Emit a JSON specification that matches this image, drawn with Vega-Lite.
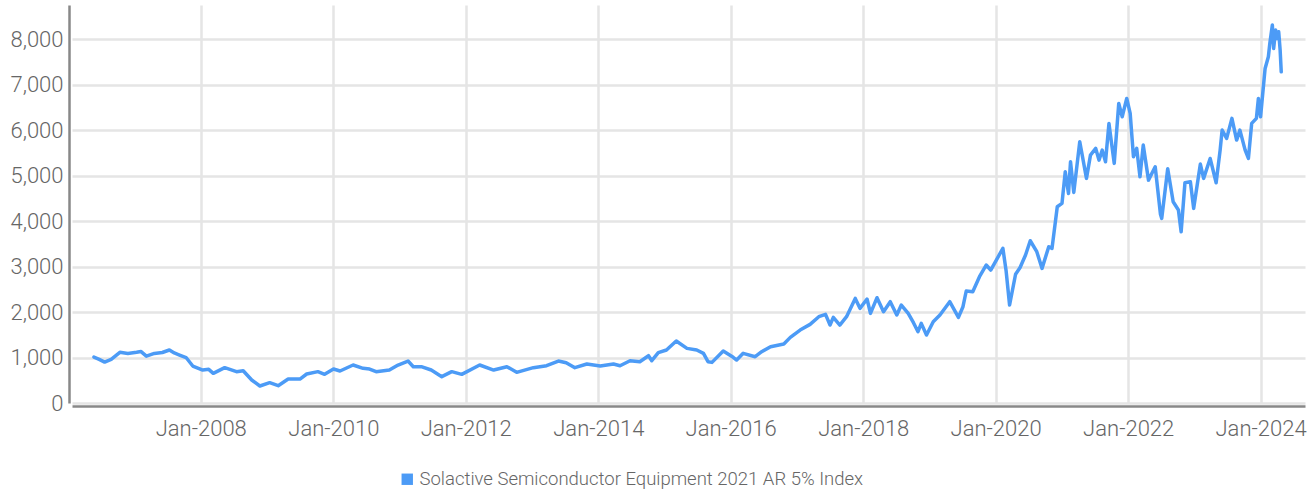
{
  "$schema": "https://vega.github.io/schema/vega-lite/v6.json",
  "width": 1233,
  "height": 398,
  "autosize": "none",
  "padding": {"left": 72, "top": 5, "right": 9, "bottom": 88},
  "background": "white",
  "config": {"view": {"stroke": null}, "font": "Roboto"},
  "data": {"values": [
    {"date": "2006-05-22", "value": 1010},
    {"date": "2006-06-20", "value": 960},
    {"date": "2006-07-20", "value": 900},
    {"date": "2006-08-25", "value": 960},
    {"date": "2006-10-12", "value": 1114},
    {"date": "2006-11-25", "value": 1090},
    {"date": "2007-01-12", "value": 1114},
    {"date": "2007-02-06", "value": 1130},
    {"date": "2007-03-07", "value": 1030},
    {"date": "2007-04-20", "value": 1090},
    {"date": "2007-06-03", "value": 1110},
    {"date": "2007-07-12", "value": 1165},
    {"date": "2007-08-08", "value": 1100},
    {"date": "2007-09-06", "value": 1055},
    {"date": "2007-10-12", "value": 1000},
    {"date": "2007-11-18", "value": 813},
    {"date": "2008-01-12", "value": 725},
    {"date": "2008-02-14", "value": 740},
    {"date": "2008-03-10", "value": 652},
    {"date": "2008-05-12", "value": 777},
    {"date": "2008-07-16", "value": 689},
    {"date": "2008-08-22", "value": 710},
    {"date": "2008-10-08", "value": 505},
    {"date": "2008-11-22", "value": 374},
    {"date": "2009-01-15", "value": 447},
    {"date": "2009-03-03", "value": 381},
    {"date": "2009-04-27", "value": 527},
    {"date": "2009-07-01", "value": 527},
    {"date": "2009-08-07", "value": 637},
    {"date": "2009-10-08", "value": 689},
    {"date": "2009-11-14", "value": 630},
    {"date": "2010-01-02", "value": 747},
    {"date": "2010-02-07", "value": 703},
    {"date": "2010-04-20", "value": 835},
    {"date": "2010-06-14", "value": 762},
    {"date": "2010-07-20", "value": 747},
    {"date": "2010-08-25", "value": 689},
    {"date": "2010-11-06", "value": 725},
    {"date": "2010-12-24", "value": 835},
    {"date": "2011-02-17", "value": 923},
    {"date": "2011-03-18", "value": 798},
    {"date": "2011-05-01", "value": 798},
    {"date": "2011-06-25", "value": 725},
    {"date": "2011-08-22", "value": 579},
    {"date": "2011-10-16", "value": 689},
    {"date": "2011-12-10", "value": 630},
    {"date": "2012-03-18", "value": 835},
    {"date": "2012-06-03", "value": 725},
    {"date": "2012-08-15", "value": 798},
    {"date": "2012-10-08", "value": 674},
    {"date": "2013-01-08", "value": 777},
    {"date": "2013-03-22", "value": 820},
    {"date": "2013-05-26", "value": 923},
    {"date": "2013-07-08", "value": 886},
    {"date": "2013-08-25", "value": 777},
    {"date": "2013-10-30", "value": 857},
    {"date": "2014-01-12", "value": 813},
    {"date": "2014-03-26", "value": 857},
    {"date": "2014-05-01", "value": 820},
    {"date": "2014-06-25", "value": 930},
    {"date": "2014-08-18", "value": 908},
    {"date": "2014-10-05", "value": 1040},
    {"date": "2014-10-23", "value": 930},
    {"date": "2014-11-28", "value": 1106},
    {"date": "2015-01-12", "value": 1165},
    {"date": "2015-03-07", "value": 1363},
    {"date": "2015-05-05", "value": 1201},
    {"date": "2015-06-28", "value": 1165},
    {"date": "2015-08-04", "value": 1092},
    {"date": "2015-08-29", "value": 908},
    {"date": "2015-09-20", "value": 893},
    {"date": "2015-11-21", "value": 1143},
    {"date": "2016-01-15", "value": 1004},
    {"date": "2016-02-03", "value": 945},
    {"date": "2016-03-10", "value": 1092},
    {"date": "2016-05-15", "value": 1018},
    {"date": "2016-06-20", "value": 1128},
    {"date": "2016-08-08", "value": 1238},
    {"date": "2016-10-20", "value": 1297},
    {"date": "2016-11-25", "value": 1443},
    {"date": "2017-01-18", "value": 1604},
    {"date": "2017-03-14", "value": 1729},
    {"date": "2017-05-01", "value": 1897},
    {"date": "2017-06-07", "value": 1949},
    {"date": "2017-07-02", "value": 1714},
    {"date": "2017-07-20", "value": 1883},
    {"date": "2017-08-25", "value": 1714},
    {"date": "2017-10-01", "value": 1897},
    {"date": "2017-11-18", "value": 2300},
    {"date": "2017-12-14", "value": 2081},
    {"date": "2018-01-22", "value": 2286},
    {"date": "2018-02-10", "value": 1971},
    {"date": "2018-03-18", "value": 2315},
    {"date": "2018-04-23", "value": 2007},
    {"date": "2018-05-30", "value": 2227},
    {"date": "2018-07-05", "value": 1934},
    {"date": "2018-07-30", "value": 2154},
    {"date": "2018-09-06", "value": 1971},
    {"date": "2018-10-05", "value": 1765},
    {"date": "2018-10-30", "value": 1567},
    {"date": "2018-11-17", "value": 1751},
    {"date": "2018-12-16", "value": 1494},
    {"date": "2019-01-22", "value": 1787},
    {"date": "2019-02-28", "value": 1934},
    {"date": "2019-04-23", "value": 2227},
    {"date": "2019-06-10", "value": 1883},
    {"date": "2019-07-05", "value": 2117},
    {"date": "2019-07-23", "value": 2462},
    {"date": "2019-08-28", "value": 2447},
    {"date": "2019-10-04", "value": 2777},
    {"date": "2019-11-10", "value": 3033},
    {"date": "2019-12-05", "value": 2923},
    {"date": "2020-01-05", "value": 3143},
    {"date": "2020-02-10", "value": 3400},
    {"date": "2020-02-28", "value": 2900},
    {"date": "2020-03-18", "value": 2154},
    {"date": "2020-04-20", "value": 2830},
    {"date": "2020-05-15", "value": 2980},
    {"date": "2020-06-14", "value": 3253},
    {"date": "2020-07-10", "value": 3567},
    {"date": "2020-08-15", "value": 3326},
    {"date": "2020-09-13", "value": 2960},
    {"date": "2020-10-20", "value": 3436},
    {"date": "2020-11-07", "value": 3400},
    {"date": "2020-12-06", "value": 4315},
    {"date": "2021-01-01", "value": 4388},
    {"date": "2021-01-19", "value": 5084},
    {"date": "2021-02-06", "value": 4608},
    {"date": "2021-02-17", "value": 5304},
    {"date": "2021-03-07", "value": 4630},
    {"date": "2021-04-09", "value": 5743},
    {"date": "2021-05-16", "value": 4938},
    {"date": "2021-06-07", "value": 5450},
    {"date": "2021-07-06", "value": 5597},
    {"date": "2021-07-24", "value": 5340},
    {"date": "2021-08-11", "value": 5560},
    {"date": "2021-08-29", "value": 5304},
    {"date": "2021-09-17", "value": 6147},
    {"date": "2021-10-16", "value": 5268},
    {"date": "2021-11-10", "value": 6586},
    {"date": "2021-11-29", "value": 6293},
    {"date": "2021-12-24", "value": 6696},
    {"date": "2022-01-12", "value": 6366},
    {"date": "2022-01-30", "value": 5414},
    {"date": "2022-02-17", "value": 5597},
    {"date": "2022-03-07", "value": 4974},
    {"date": "2022-03-25", "value": 5670},
    {"date": "2022-04-23", "value": 4900},
    {"date": "2022-05-30", "value": 5194},
    {"date": "2022-06-28", "value": 4150},
    {"date": "2022-07-05", "value": 4059},
    {"date": "2022-08-07", "value": 5150},
    {"date": "2022-09-06", "value": 4425},
    {"date": "2022-10-05", "value": 4242},
    {"date": "2022-10-20", "value": 3765},
    {"date": "2022-11-10", "value": 4842},
    {"date": "2022-12-10", "value": 4864},
    {"date": "2022-12-28", "value": 4279},
    {"date": "2023-02-03", "value": 5253},
    {"date": "2023-02-21", "value": 4938},
    {"date": "2023-03-29", "value": 5377},
    {"date": "2023-05-01", "value": 4842},
    {"date": "2023-05-23", "value": 5560},
    {"date": "2023-06-03", "value": 6000},
    {"date": "2023-06-28", "value": 5817},
    {"date": "2023-07-27", "value": 6257},
    {"date": "2023-08-22", "value": 5780},
    {"date": "2023-09-09", "value": 6000},
    {"date": "2023-10-08", "value": 5560},
    {"date": "2023-10-26", "value": 5377},
    {"date": "2023-11-13", "value": 6147},
    {"date": "2023-12-09", "value": 6257},
    {"date": "2023-12-20", "value": 6696},
    {"date": "2024-01-01", "value": 6293},
    {"date": "2024-01-26", "value": 7356},
    {"date": "2024-02-13", "value": 7611},
    {"date": "2024-02-21", "value": 7905},
    {"date": "2024-03-06", "value": 8308},
    {"date": "2024-03-13", "value": 7795},
    {"date": "2024-03-24", "value": 8198},
    {"date": "2024-03-31", "value": 8015},
    {"date": "2024-04-10", "value": 8161},
    {"date": "2024-04-18", "value": 7750},
    {"date": "2024-04-24", "value": 7280}
  ]},
  "mark": {"type": "line", "strokeWidth": 3.5, "strokeJoin": "round", "strokeCap": "round"},
  "encoding": {
    "x": {
      "field": "date", "type": "temporal",
      "scale": {"domain": ["2006-01-21", "2024-09-02"]},
      "axis": {
        "title": null, "format": "%b-%Y", "ticks": false, "offset": 3,
        "values": ["2008-01-01", "2010-01-01", "2012-01-01", "2014-01-01", "2016-01-01", "2018-01-01", "2020-01-01", "2022-01-01", "2024-01-01"],
        "labelFont": "Roboto", "labelFontWeight": 300, "labelFontSize": 22, "labelColor": "#666666",
        "labelPadding": 12, "labelFlush": false, "labelOverlap": false,
        "domainColor": "#888888", "domainWidth": 2.5,
        "gridColor": "#e5e5e5", "gridWidth": 2.5
      }
    },
    "y": {
      "field": "value", "type": "quantitative",
      "scale": {"domain": [0, 8750], "nice": false},
      "axis": {
        "title": null, "format": ",.0f", "ticks": false, "offset": 3,
        "values": [0, 1000, 2000, 3000, 4000, 5000, 6000, 7000, 8000],
        "labelFont": "Roboto", "labelFontWeight": 300, "labelFontSize": 22, "labelColor": "#666666",
        "labelPadding": 6, "labelFlush": false,
        "domainColor": "#888888", "domainWidth": 2.5,
        "gridColor": "#e5e5e5", "gridWidth": 2.5
      }
    },
    "color": {
      "datum": "Solactive Semiconductor Equipment 2021 AR 5% Index",
      "type": "nominal",
      "scale": {"range": ["#4C9BF6"]},
      "legend": {
        "title": null, "orient": "none", "legendX": 326, "legendY": 465,
        "symbolType": "square", "symbolSize": 130, "symbolStrokeWidth": 0,
        "symbolFillColor": "#4C9BF6", "symbolOffset": 0,
        "labelFont": "Roboto", "labelFontWeight": 300, "labelFontSize": 18.5, "labelColor": "#666666",
        "labelOffset": 3, "labelLimit": 0
      }
    }
  }
}
